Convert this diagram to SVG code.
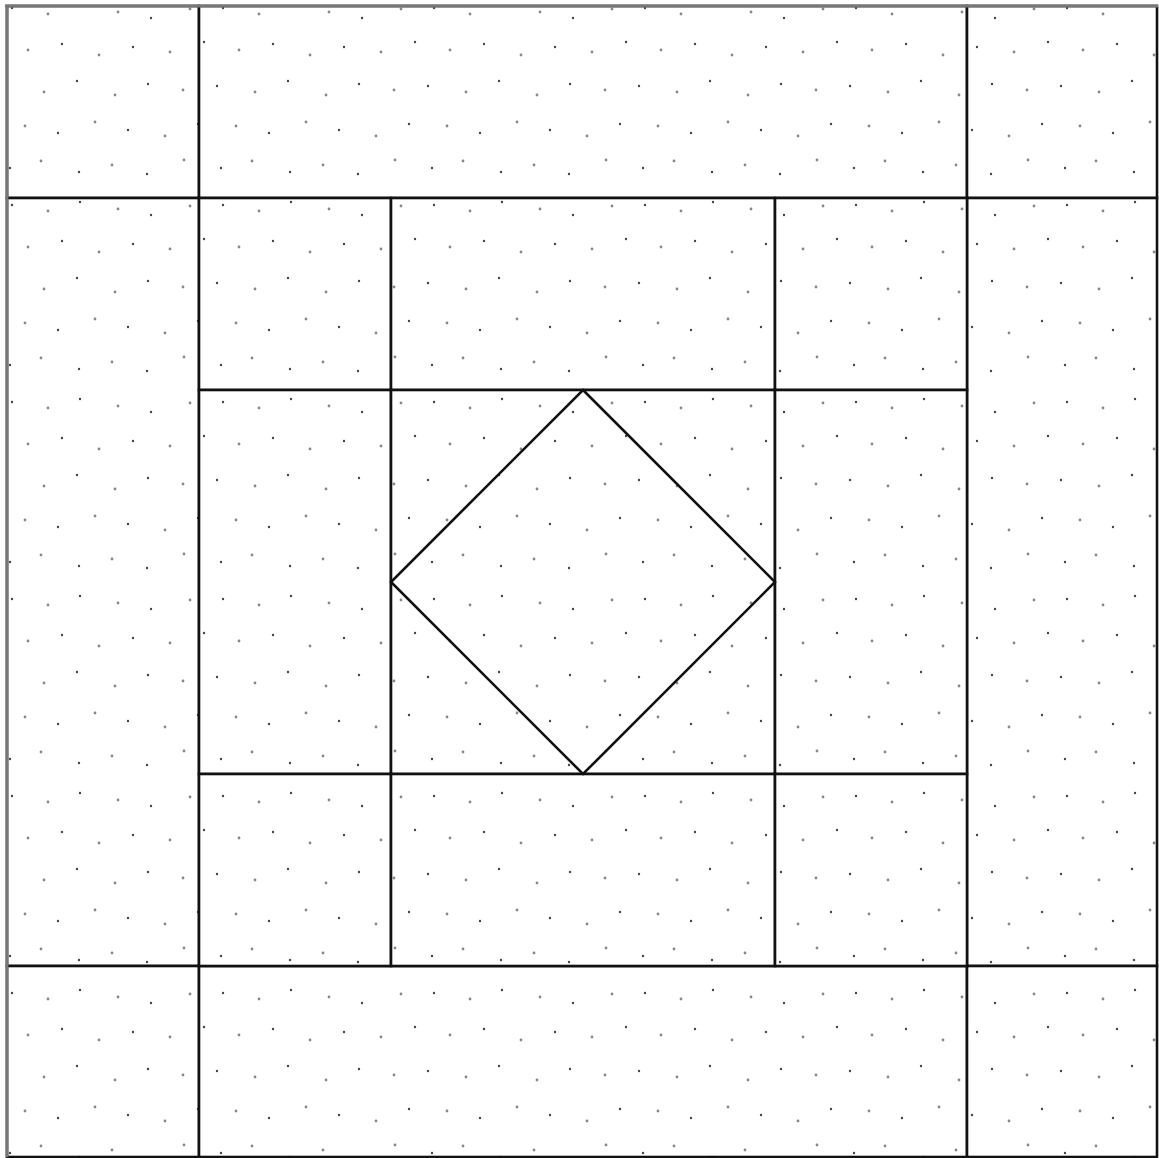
<svg xmlns="http://www.w3.org/2000/svg" width="1159" height="1158" viewBox="0 0 1159 1158">
<style>
.patch{fill:url(#dots);stroke:#111;stroke-width:2.6}
.d1{fill:#444}
.d2{fill:#888}
</style>
<defs>
<pattern id="dots" patternUnits="userSpaceOnUse" x="0" y="0" width="211" height="197">
<rect width="211" height="197" fill="#fff"/>
<g class="d1">
<circle cx="12" cy="8" r="1.2"/><circle cx="80" cy="5" r="1.2"/><circle cx="151" cy="18" r="1.2"/>
<circle cx="62" cy="44" r="1.2"/><circle cx="133" cy="47" r="1.2"/><circle cx="204" cy="42" r="1.2"/>
<circle cx="6" cy="86" r="1.2"/><circle cx="77" cy="81" r="1.2"/><circle cx="148" cy="84" r="1.2"/>
<circle cx="58" cy="133" r="1.2"/><circle cx="128" cy="130" r="1.2"/><circle cx="198" cy="124" r="1.2"/>
<circle cx="10" cy="168" r="1.2"/><circle cx="79" cy="172" r="1.2"/><circle cx="147" cy="174" r="1.2"/>
</g>
<g class="d2">
<circle cx="48" cy="14" r="1.4"/><circle cx="118" cy="12" r="1.4"/><circle cx="190" cy="9" r="1.4"/>
<circle cx="28" cy="50" r="1.4"/><circle cx="99" cy="55" r="1.4"/><circle cx="170" cy="52" r="1.4"/>
<circle cx="44" cy="92" r="1.4"/><circle cx="115" cy="95" r="1.4"/><circle cx="183" cy="90" r="1.4"/>
<circle cx="25" cy="126" r="1.4"/><circle cx="95" cy="122" r="1.4"/><circle cx="165" cy="136" r="1.4"/>
<circle cx="41" cy="161" r="1.4"/><circle cx="112" cy="165" r="1.4"/><circle cx="184" cy="160" r="1.4"/>
</g>
</pattern>
</defs>
<rect width="1159" height="1158" fill="#fff"/>
<g id="outer-ring">
<rect class="patch" x="7" y="6" width="192" height="192"/>
<rect class="patch" x="199" y="6" width="768" height="192"/>
<rect class="patch" x="967" y="6" width="190" height="192"/>
<rect class="patch" x="7" y="198" width="192" height="768"/>
<rect class="patch" x="967" y="198" width="190" height="768"/>
<rect class="patch" x="7" y="966" width="192" height="191"/>
<rect class="patch" x="199" y="966" width="768" height="191"/>
<rect class="patch" x="967" y="966" width="190" height="191"/>
</g>
<g id="inner-block">
<rect class="patch" x="199" y="198" width="192" height="192"/>
<rect class="patch" x="391" y="198" width="384" height="192"/>
<rect class="patch" x="775" y="198" width="192" height="192"/>
<rect class="patch" x="199" y="390" width="192" height="384"/>
<rect class="patch" x="391" y="390" width="384" height="384"/>
<rect class="patch" x="775" y="390" width="192" height="384"/>
<rect class="patch" x="199" y="774" width="192" height="192"/>
<rect class="patch" x="391" y="774" width="384" height="192"/>
<rect class="patch" x="775" y="774" width="192" height="192"/>
</g>
<g id="center-diamond">
<polygon class="patch" points="583,390 775,582 583,774 391,582"/>
</g>
<g id="border" fill="none">
<line x1="7" y1="5" x2="7" y2="1157" stroke="#777" stroke-width="3"/>
<line x1="5" y1="6" x2="1158" y2="6" stroke="#777" stroke-width="3"/>
</g>
</svg>
